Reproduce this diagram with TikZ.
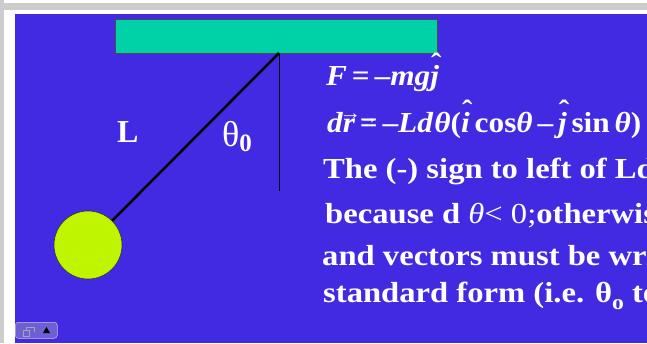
\documentclass[tikz,border=0pt]{standalone}
\usepackage{fontspec}
\setmainfont{Liberation Serif}
\newfontfamily\txt[FakeStretch=1.125]{Liberation Serif}
\newfontfamily\txtm[FakeStretch=1.08]{Liberation Serif}
\definecolor{slide}{RGB}{66,42,226}
\definecolor{barc}{RGB}{0,210,168}
\definecolor{ballc}{RGB}{192,245,0}
\definecolor{frame}{RGB}{204,204,204}
\definecolor{widget}{RGB}{110,96,210}
\newcommand\slidesize{\fontsize{29}{29}\selectfont}
\newcommand\vecr{\ooalign{\itshape r\cr\hidewidth\kern.1em\raisebox{.42em}{\upshape\fontsize{20}{20}\selectfont →}\hidewidth\cr}}
\newcommand\eqarr{\ooalign{=\cr\hidewidth\raisebox{.3em}{\fontsize{17}{17}\selectfont →}\hidewidth\cr}}
\newcommand\hatit[1]{\ooalign{\itshape #1\cr\hidewidth\kern.12em\raisebox{.38em}{\upshape ˆ}\hidewidth\cr}}
\tikzset{
  txtline/.style={anchor=base west, inner sep=0pt, text=white, font=\txt\slidesize\bfseries},
  mathline/.style={anchor=base west, inner sep=0pt, text=white, font=\txtm\slidesize\bfseries},
  ropeline/.style={line width=2.5pt, black},
}
\begin{document}
\begin{tikzpicture}[x=1pt,y=-1pt]
\useasboundingbox (0,0) rectangle (647,343);
\clip (0,0) rectangle (647,343);
\fill[white] (0,0) rectangle (647,343);
\fill[frame] (0,3) rectangle (647,10);
\fill[frame] (0,0) rectangle (4,343);
\fill[slide] (15,14) rectangle (647,343);
% support bar
\node[draw=black!70, fill=barc, line width=0.8pt, minimum width=322pt, minimum height=34pt, anchor=north west, inner sep=0pt] (bar) at (115,19) {};
\coordinate (pivot) at (279,53);
\coordinate (vend) at (279,191);
\node[circle, draw=black!80, fill=ballc, minimum size=68pt, inner sep=0pt, line width=0.6pt] (ball) at (88,245) {};
\draw[ropeline] (pivot) -- (ball);
\draw[black, line width=0.8pt] (pivot) -- (vend);
% labels
\node[anchor=base west, inner sep=0pt, text=white, font=\fontsize{32}{32}\selectfont\bfseries] (Llab) at (117,142) {L};
\node[anchor=base west, inner sep=0pt, text=white, font=\fontsize{36}{36}\selectfont] (th) at (222,146) {θ\raisebox{-5pt}{\fontsize{25}{25}\selectfont\bfseries 0}};
% text lines
\node[mathline] (l1) at (326,85) {\itshape F\upshape\,=\,–\itshape mg\hatit{j}};
\node[mathline] (l2) at (327,132) {\itshape d\vecr\upshape\,\eqarr\,–\itshape Ld\kern.05em θ\upshape(\hatit{i}\,cos\itshape θ\upshape\,–\,\hatit{j}\,sin\,\itshape θ\upshape)};
\node[txtline] (l3) at (323,178) {The (-) sign to left of Ld};
\node[txtline] (l4) at (325,223) {because d {\mdseries\itshape θ\upshape< 0;}otherwis};
\node[txtline] (l5) at (322,265) {and vectors must be wr};
\node[txtline] (l6) at (323,302) {standard form (i.e. θ\raisebox{-7pt}{\fontsize{21}{21}\selectfont o} to};
% widget
\node[draw=white!60!widget, fill=widget, rounded corners=3pt, minimum width=42pt, minimum height=16pt, anchor=north west, inner sep=0pt, line width=0.5pt] (wdg) at (15,322) {};
\draw[gray!70, line width=0.6pt] (23,330) rectangle (29,336);
\draw[gray!70, line width=0.6pt] (26,327) -- (34,327) -- (34,332) (26,327) -- (26,330);
\fill[black] (43,333) -- (50,333) -- (46.5,327) -- cycle;
\end{tikzpicture}
\end{document}
